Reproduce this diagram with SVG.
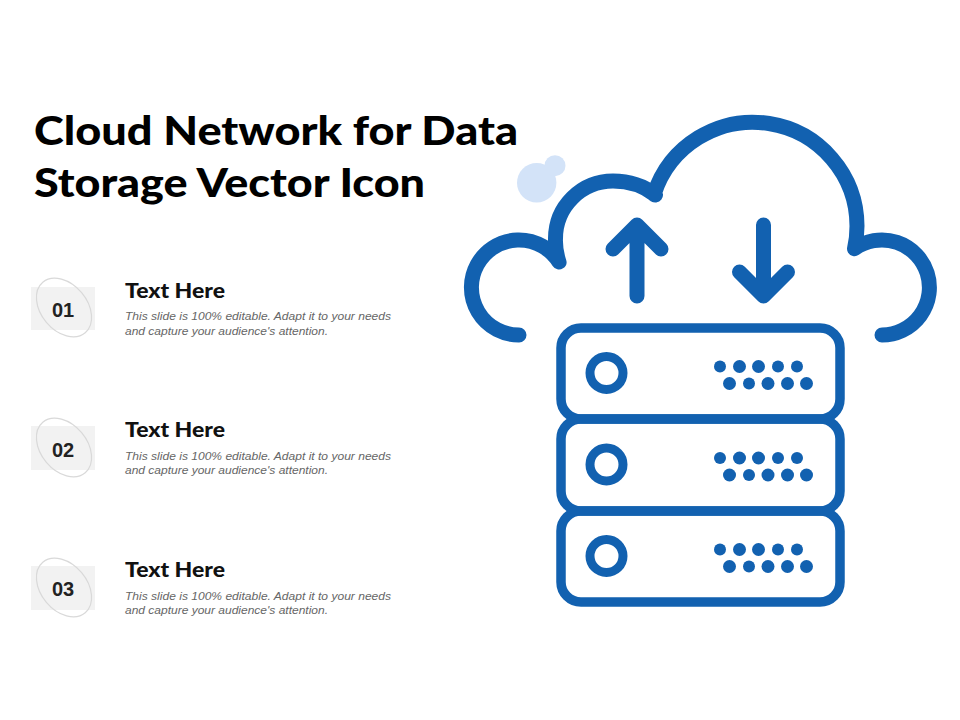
<svg xmlns="http://www.w3.org/2000/svg" width="960" height="720" viewBox="0 0 960 720">
<style>
.title{font-family:Lato,"Liberation Sans",sans-serif;font-weight:900;font-size:40px;fill:#000}
.head{font-family:Lato,"Liberation Sans",sans-serif;font-weight:900;font-size:20px;fill:#111}
.body{font-family:"Liberation Sans",Arial,sans-serif;font-style:italic;font-size:11.5px;fill:#666}
.num{font-family:"Liberation Sans",Arial,sans-serif;font-weight:700;font-size:20px;fill:#222;text-anchor:middle}
.sq{fill:#f2f2f2}
.ring{fill:none;stroke:#d9d9d9;stroke-width:1.2}
.ln{fill:none;stroke:#1261b0;stroke-linecap:round;stroke-linejoin:round;stroke-width:15}
.box{fill:none;stroke:#1261b0;stroke-width:9.5}
.led{fill:none;stroke:#1261b0;stroke-width:9}
.dot{fill:#1261b0}
</style>
<defs>
<g id="dots">
<circle class="dot" cx="720" cy="0" r="6"/><circle class="dot" cx="739.5" cy="0" r="6.5"/><circle class="dot" cx="758.5" cy="0" r="6.5"/><circle class="dot" cx="778" cy="0" r="6"/><circle class="dot" cx="797" cy="0" r="6"/>
<circle class="dot" cx="729.5" cy="17" r="6.5"/><circle class="dot" cx="749" cy="17" r="6"/><circle class="dot" cx="768" cy="17" r="6.5"/><circle class="dot" cx="787.5" cy="17" r="6.5"/><circle class="dot" cx="806.5" cy="17" r="6.5"/>
</g>
</defs>
<rect width="960" height="720" fill="#fff"/>
<g id="title">
<text class="title" x="34" y="145" textLength="484" lengthAdjust="spacingAndGlyphs">Cloud Network for Data</text>
<text class="title" x="34" y="197" textLength="391" lengthAdjust="spacingAndGlyphs">Storage Vector Icon</text>
</g>
<g id="item-01">
<rect class="sq" x="31" y="287" width="64" height="43"/>
<ellipse class="ring" cx="64" cy="307.500" rx="23" ry="33" transform="rotate(-40 64 307.500)"/>
<text class="num" x="63" y="316.500">01</text>
<text class="head" x="125" y="298" textLength="100" lengthAdjust="spacingAndGlyphs">Text Here</text>
<text class="body" x="125" y="320" textLength="266" lengthAdjust="spacingAndGlyphs">This slide is 100% editable. Adapt it to your needs</text>
<text class="body" x="125" y="334.500" textLength="203" lengthAdjust="spacingAndGlyphs">and capture your audience's attention.</text>
</g>
<g id="item-02">
<rect class="sq" x="31" y="426" width="64" height="44"/>
<ellipse class="ring" cx="64" cy="447.500" rx="23" ry="33" transform="rotate(-40 64 447.500)"/>
<text class="num" x="63" y="456.500">02</text>
<text class="head" x="125" y="437" textLength="100" lengthAdjust="spacingAndGlyphs">Text Here</text>
<text class="body" x="125" y="459.500" textLength="266" lengthAdjust="spacingAndGlyphs">This slide is 100% editable. Adapt it to your needs</text>
<text class="body" x="125" y="474" textLength="203" lengthAdjust="spacingAndGlyphs">and capture your audience's attention.</text>
</g>
<g id="item-03">
<rect class="sq" x="31" y="566" width="64" height="44"/>
<ellipse class="ring" cx="64" cy="587.500" rx="23" ry="33" transform="rotate(-40 64 587.500)"/>
<text class="num" x="63" y="595.500">03</text>
<text class="head" x="125" y="577" textLength="100" lengthAdjust="spacingAndGlyphs">Text Here</text>
<text class="body" x="125" y="599.500" textLength="266" lengthAdjust="spacingAndGlyphs">This slide is 100% editable. Adapt it to your needs</text>
<text class="body" x="125" y="614" textLength="203" lengthAdjust="spacingAndGlyphs">and capture your audience's attention.</text>
</g>
<g id="bubbles">
<circle cx="536.700" cy="182.700" r="19.700" fill="#d3e3f8"/>
<circle cx="555" cy="165.700" r="10.500" fill="#d3e3f8"/>
</g>
<g id="cloud">
<path class="ln" d="M519 335 A47.500 47.500 0 1 1 559 262 Q555 250 555.500 238.500 A57.500 57.500 0 0 1 613 181 C629 181 644 186 655.500 195 M655 195 Q654 194 654 194.400 A104 104 0 0 1 857 226 Q857 238 854.500 248.700 A47.500 47.500 0 1 1 882 335"/>
</g>
<g id="arrow-up">
<path class="ln" d="M637 296 V225 M613 249 L637 225 L661 249"/>
</g>
<g id="arrow-down">
<path class="ln" d="M763.500 225 V296 M739.500 272 L763.500 296 L787.500 272"/>
</g>
<g id="server-1">
<rect class="box" x="561" y="328" width="279" height="91" rx="20"/>
<circle class="led" cx="606.500" cy="373" r="16.500"/>
<use href="#dots" y="366.500"/>
</g>
<g id="server-2">
<rect class="box" x="561" y="419" width="279" height="92" rx="20"/>
<circle class="led" cx="606.500" cy="464.500" r="16.500"/>
<use href="#dots" y="458"/>
</g>
<g id="server-3">
<rect class="box" x="561" y="511" width="279" height="91" rx="20"/>
<circle class="led" cx="606.500" cy="556" r="16.500"/>
<use href="#dots" y="549.500"/>
</g>
</svg>
